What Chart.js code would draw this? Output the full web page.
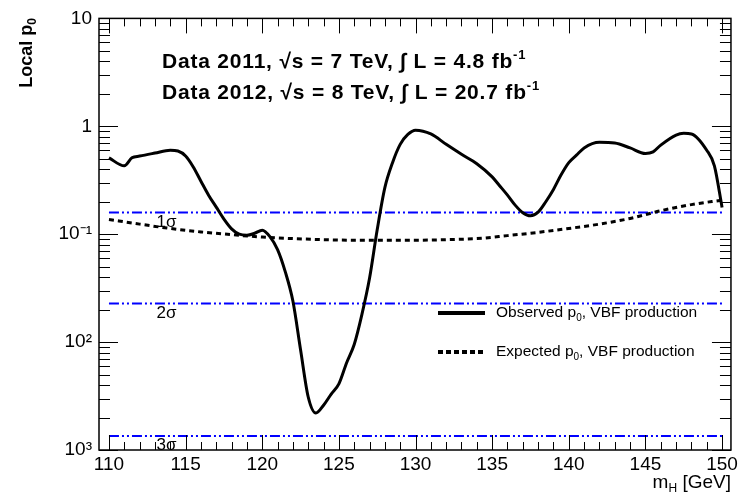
<!DOCTYPE html>
<html>
<head>
<meta charset="utf-8">
<script src="https://cdn.jsdelivr.net/npm/chart.js@4/dist/chart.umd.min.js"></script>
<style>
  body { margin: 0; background: #fff; }
  #chart { display: block; }
</style>
</head>
<body>
<canvas id="chart" width="741" height="494"></canvas>
<script>
// observed local p0 (VBF production)
const massObs = [110, 111, 111.5, 112, 113, 114, 114.5, 115, 115.5, 116, 116.5, 117, 117.5, 118, 118.5, 119, 119.5, 120, 120.5,
  121, 121.5, 122, 122.5, 123, 123.5, 124, 124.5, 125, 125.5, 126, 126.5, 127, 127.5, 128, 128.5, 129, 129.5, 130,
  131, 132, 133, 134, 135, 135.5, 136, 136.5, 137, 137.5, 138, 138.5, 139, 139.5, 140, 140.5, 141, 142, 143, 144, 145, 145.5,
  146, 147, 147.5, 148, 149, 149.5, 150];
const p0Obs = [0.51, 0.43, 0.51, 0.53, 0.565, 0.6, 0.59, 0.53, 0.42, 0.31, 0.23, 0.178, 0.138, 0.112, 0.1, 0.098, 0.102, 0.109, 0.095,
  0.072, 0.045, 0.024, 0.0085, 0.0031, 0.0022, 0.0026, 0.0033, 0.0041, 0.0064, 0.0095, 0.018, 0.039, 0.11, 0.27, 0.46, 0.68, 0.84, 0.92,
  0.85, 0.68, 0.55, 0.45, 0.34, 0.28, 0.23, 0.186, 0.158, 0.148, 0.16, 0.2, 0.26, 0.355, 0.46, 0.54, 0.63, 0.71, 0.7, 0.63, 0.56, 0.58,
  0.67, 0.83, 0.86, 0.85, 0.6, 0.43, 0.177];

// expected local p0
const massExp = [110, 112, 114, 116, 118, 120, 122, 124, 126, 128, 130, 132, 134, 136, 138, 140, 142, 144, 146, 148, 150];
const p0Exp = [0.137, 0.124, 0.113, 0.105, 0.099, 0.094, 0.091, 0.089, 0.088, 0.088, 0.088, 0.089, 0.091, 0.097, 0.104, 0.113,
  0.124, 0.14, 0.165, 0.188, 0.207];

// significance reference lines
const sigmaLevels = [0.1587, 0.02275, 0.00135];
const sigmaLabels = ['1σ', '2σ', '3σ'];
const sigmaRange = [110, 150];

const xTicks = [];
for (let m = 110; m <= 150; m++) xTicks.push(m);
const yTicks = [1e-3, 1e-2, 1e-1, 1, 10];
const yTickLabels = ['10³', '10²', '10⁻¹', '1', '10'];

const FONT = '"Liberation Sans", Arial, sans-serif';

function toPts(xs, ys) {
  return xs.map((x, i) => ({ x: x, y: ys[i] }));
}

const sigmaSets = sigmaLevels.map((lv) => ({
  data: sigmaRange.map((m) => ({ x: m, y: lv })),
  borderColor: '#0000ff',
  borderWidth: 2,
  borderDash: [10, 3, 2, 3, 2, 3],
  pointRadius: 0,
  fill: false,
}));

// draws text pieces with sub/superscripts: [[text, font, dy], ...]
function drawPieces(ctx, pieces, x, y) {
  pieces.forEach((p) => {
    ctx.font = p[1];
    ctx.fillText(p[0], x, y + p[2]);
    x += ctx.measureText(p[0]).width;
  });
  return x;
}
function piecesWidth(ctx, pieces) {
  let w = 0;
  pieces.forEach((p) => { ctx.font = p[1]; w += ctx.measureText(p[0]).width; });
  return w;
}

const framePlugin = {
  id: 'frame',
  afterDraw(chart) {
    const ctx = chart.ctx;
    const a = chart.chartArea;
    const xs = chart.scales.x;
    const ys = chart.scales.y;
    ctx.save();
    ctx.strokeStyle = '#000';
    ctx.lineWidth = 1.5;
    ctx.strokeRect(a.left, a.top, a.right - a.left, a.bottom - a.top);

    // x ticks, bottom and top
    ctx.lineWidth = 1;
    xTicks.forEach((m) => {
      const px = Math.round(xs.getPixelForValue(m)) + 0.5;
      const len = m % 5 === 0 ? 15 : 8;
      ctx.beginPath();
      ctx.moveTo(px, a.bottom); ctx.lineTo(px, a.bottom - len);
      ctx.moveTo(px, a.top); ctx.lineTo(px, a.top + len);
      ctx.stroke();
    });
    // y ticks, left and right
    for (let d = -3; d < 1; d++) {
      for (let k = 1; k <= 9; k++) {
        const v = k * Math.pow(10, d);
        const py = Math.round(ys.getPixelForValue(v)) + 0.5;
        const len = k === 1 ? 19 : 11;
        ctx.beginPath();
        ctx.moveTo(a.left, py); ctx.lineTo(a.left + len, py);
        ctx.moveTo(a.right, py); ctx.lineTo(a.right - len, py);
        ctx.stroke();
      }
    }

    ctx.fillStyle = '#000';
    ctx.textAlign = 'left';

    // sigma labels
    ctx.font = '17px ' + FONT;
    ctx.textBaseline = 'top';
    sigmaLevels.forEach((lv, i) => {
      const py = ys.getPixelForValue(lv);
      ctx.fillText(sigmaLabels[i], xs.getPixelForValue(113.1), py + 1);
    });
    ctx.textBaseline = 'alphabetic';

    // data description
    const big = 'bold 21px ' + FONT;
    const sup = 'bold 13px ' + FONT;
    ctx.letterSpacing = '0.8px';
    drawPieces(ctx, [['Data 2011, √s = 7 TeV, ∫ L = 4.8 fb', big, 0], ['-1', sup, -9]], 162, 68);
    drawPieces(ctx, [['Data 2012, √s = 8 TeV, ∫ L = 20.7 fb', big, 0], ['-1', sup, -9]], 162, 99);
    ctx.letterSpacing = '0px';

    // legend
    ctx.lineWidth = 4;
    ctx.beginPath();
    ctx.moveTo(438, 313); ctx.lineTo(485, 313);
    ctx.stroke();
    ctx.setLineDash([5, 3]);
    ctx.beginPath();
    ctx.moveTo(438, 352); ctx.lineTo(485, 352);
    ctx.stroke();
    ctx.setLineDash([]);
    const lf = '15.5px ' + FONT;
    const ls = '10px ' + FONT;
    drawPieces(ctx, [['Observed p', lf, 0], ['0', ls, 4], [', VBF production', lf, 0]], 496, 317);
    drawPieces(ctx, [['Expected p', lf, 0], ['0', ls, 4], [', VBF production', lf, 0]], 496, 356);

    // axis titles
    const xt = [['m', '19px ' + FONT, 0], ['H', '12px ' + FONT, 4], [' [GeV]', '19px ' + FONT, 0]];
    drawPieces(ctx, xt, a.right - piecesWidth(ctx, xt), 488);

    const yt = [['Local p', 'bold 18px ' + FONT, 0], ['0', 'bold 12px ' + FONT, 4]];
    ctx.translate(32, 53);
    ctx.rotate(-Math.PI / 2);
    drawPieces(ctx, yt, -piecesWidth(ctx, yt) / 2, 0);
    ctx.restore();
  },
};

const ctx = document.getElementById('chart').getContext('2d');
new Chart(ctx, {
  type: 'line',
  data: {
    datasets: [
      {
        data: toPts(massObs, p0Obs),
        borderColor: '#000',
        borderWidth: 3,
        pointRadius: 0,
        cubicInterpolationMode: 'monotone',
        fill: false,
      },
      {
        data: toPts(massExp, p0Exp),
        borderColor: '#000',
        borderWidth: 3,
        borderDash: [5, 4],
        pointRadius: 0,
        cubicInterpolationMode: 'monotone',
        fill: false,
      },
      ...sigmaSets,
    ],
  },
  options: {
    responsive: false,
    animation: false,
    layout: { padding: { top: 15, right: 6, left: 0, bottom: 0 } },
    plugins: { legend: { display: false }, tooltip: { enabled: false } },
    scales: {
      x: {
        type: 'linear',
        min: 109.35,
        max: 150.58,
        grid: { display: false, drawTicks: false },
        border: { display: false },
        afterBuildTicks: (s) => { s.ticks = xTicks.map((v) => ({ value: v })); },
        afterFit: (s) => { s.height = 44; },
        ticks: {
          autoSkip: false,
          maxRotation: 0,
          padding: 3,
          color: '#000',
          font: { family: FONT, size: 19 },
          callback: (v) => (v % 5 === 0 ? String(v) : ''),
        },
      },
      y: {
        type: 'logarithmic',
        min: 1e-3,
        max: 10,
        grid: { display: false, drawTicks: false },
        border: { display: false },
        afterBuildTicks: (s) => { s.ticks = yTicks.map((v) => ({ value: v })); },
        afterFit: (s) => { s.width = 99; },
        ticks: {
          autoSkip: false,
          padding: 7,
          color: '#000',
          font: { family: FONT, size: 19 },
          callback: (v) => {
            const i = yTicks.findIndex((t) => Math.abs(Math.log10(t) - Math.log10(v)) < 1e-6);
            return i >= 0 ? yTickLabels[i] : '';
          },
        },
      },
    },
  },
  plugins: [framePlugin],
});
</script>
</body>
</html>
